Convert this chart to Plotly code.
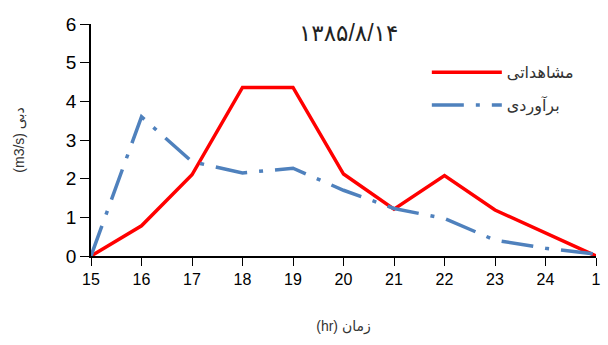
import plotly.graph_objects as go

hours = ["15", "16", "17", "18", "19", "20", "21", "22", "23", "24", "1"]
observed = [0, 0.78, 2.1, 4.36, 4.36, 2.12, 1.21, 2.08, 1.19, 0.59, 0]
estimated = [0, 3.6, 2.44, 2.15, 2.27, 1.7, 1.23, 0.97, 0.41, 0.2, 0.05]
y_ticks = [0, 1, 2, 3, 4, 5, 6]

title_text = "۱۳۸۵/۸/۱۴"
name_obs = "مشاهداتی"
name_est = "برآوردی"
x_title = "(hr) زمان"
y_title = "(m3/s) دبی"

fig = go.Figure()
fig.add_trace(go.Scatter(x=hours, y=observed, mode="lines", name=name_obs,
                         legendgroup="a",
                         line=dict(color="#FF0000", width=3.5)))
fig.add_trace(go.Scatter(x=hours, y=estimated, mode="lines", name=name_est,
                         legendgroup="b",
                         line=dict(color="#4F81BD", width=3.5, dash="32px,12px,4px,12px")))

plot_w = 608 - 91 - 7
plot_h = 345 - 24 - 89

fig.update_layout(
    width=608, height=345,
    margin=dict(l=91, r=7, t=24, b=89),
    paper_bgcolor="white", plot_bgcolor="white",
    font=dict(family="Liberation Sans, DejaVu Sans, Arial", color="black"),
    showlegend=True,
    legend=dict(x=0.665, y=0.865, xanchor="left", yanchor="top",
                bgcolor="rgba(0,0,0,0)", font=dict(size=16, color="#333"),
                itemwidth=70, tracegroupgap=9),
    annotations=[dict(text=title_text,
                      x=(351 - 91) / plot_w, y=(345 - 89 - 33) / plot_h,
                      xref="paper", yref="paper",
                      xanchor="center", yanchor="middle", showarrow=False,
                      font=dict(size=23, color="#222"))],
)

fig.update_xaxes(
    type="category", range=[0, 10],
    showline=True, linecolor="black", linewidth=1.5,
    ticks="outside", ticklen=8, tickcolor="black",
    tickfont=dict(size=16), showgrid=False, zeroline=False,
    title=dict(text=x_title, font=dict(size=14, color="#333"), standoff=34),
)
fig.update_yaxes(
    range=[0, 6], tickvals=y_ticks,
    showline=True, linecolor="black", linewidth=1.5,
    ticks="outside", ticklen=9, tickcolor="black",
    tickfont=dict(size=19), showgrid=False, zeroline=False,
    title=dict(text=y_title, font=dict(size=14, color="#333"), standoff=38),
)

fig.write_html("out.html", config={"displayModeBar": False},
               post_script="document.body.style.margin='0';")
